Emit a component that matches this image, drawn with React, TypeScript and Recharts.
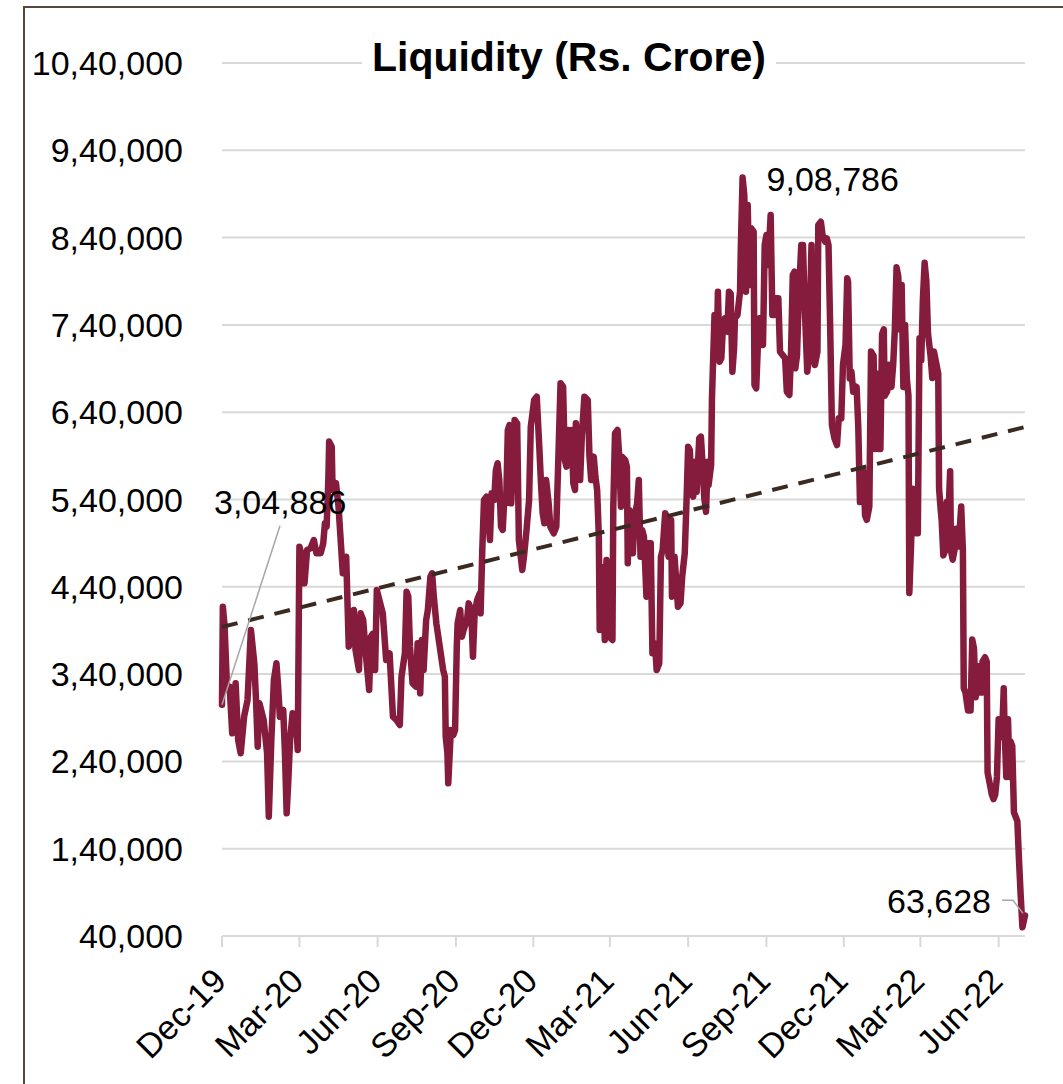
import { LineChart, Line, XAxis, YAxis, CartesianGrid, ReferenceLine } from 'recharts';

const FONT = '"Liberation Sans", Arial, sans-serif';

// day number counted from 1 Dec 2019
const dayNo = [
  0, 1, 3, 6, 9, 12, 16, 19, 22, 26, 30, 34, 38, 40, 42, 44, 49, 53, 55, 58,
  61, 64, 66, 68, 72, 74, 76, 78, 80, 83, 87, 89, 91, 93, 95, 97, 100, 104, 108, 111,
  116, 119, 121, 123, 125, 126, 129, 130, 134, 137, 139, 142, 146, 149, 152, 155, 157, 161, 163, 166,
  169, 173, 175, 177, 180, 182, 189, 193, 197, 201, 205, 209, 211, 215, 217, 219, 221, 224, 228, 230,
  233, 235, 237, 240, 242, 245, 247, 249, 252, 256, 260, 262, 263, 265, 266, 269, 272, 274, 276, 277,
  280, 282, 284, 288, 290, 293, 295, 297, 300, 303, 304, 306, 308, 311, 315, 317, 320, 322, 324, 326,
  328, 330, 332, 334, 336, 338, 340, 342, 344, 347, 349, 353, 355, 358, 361, 363, 367, 370, 373, 375,
  377, 379, 381, 384, 386, 390, 393, 395, 398, 401, 403, 405, 407, 409, 411, 413, 415, 416, 419, 421,
  423, 426, 430, 432, 434, 437, 439, 441, 443, 444, 446, 448, 450, 452, 455, 459, 460, 462, 465, 467,
  469, 470, 474, 476, 477, 479, 481, 483, 485, 488, 490, 492, 494, 496, 499, 501, 504, 506, 509, 511,
  514, 516, 518, 521, 523, 525, 528, 529, 532, 536, 539, 541, 544, 546, 548, 550, 552, 554, 556, 558,
  561, 563, 565, 567, 569, 571, 572, 575, 576, 579, 582, 583, 585, 587, 589, 591, 594, 596, 598, 600,
  602, 603, 606, 609, 610, 612, 614, 616, 618, 620, 622, 625, 626, 628, 630, 632, 634, 636, 638, 640,
  642, 645, 647, 649, 651, 654, 656, 659, 662, 664, 667, 669, 671, 673, 674, 676, 678, 681, 683, 685,
  688, 690, 693, 694, 697, 700, 701, 704, 706, 709, 711, 713, 715, 717, 720, 723, 725, 728, 730, 733,
  735, 736, 738, 740, 742, 744, 746, 748, 750, 752, 754, 756, 758, 761, 763, 766, 768, 770, 772, 774,
  776, 778, 779, 782, 784, 787, 789, 791, 793, 795, 797, 799, 801, 803, 805, 807, 808, 810, 812, 814,
  816, 818, 820, 822, 824, 826, 828, 830, 833, 835, 837, 839, 842, 843, 845, 846, 848, 850, 852, 854,
  856, 857, 859, 861, 863, 866, 869, 871, 872, 874, 877, 880, 882, 884, 886, 889, 890, 893, 894, 897,
  899, 900, 903, 905, 907, 909, 911, 913, 915, 917, 919, 920, 922, 924, 926, 927, 929, 931, 933, 935,
  937, 939, 941, 944,
];

// system liquidity, Rs. crore
const liquidity = [
  304886, 417200, 396000, 321800, 325600, 272200, 329500, 264500, 249300, 291200, 310300, 390500, 352400, 310300, 256900, 306500, 287400, 249300, 176700, 264500,
  333200, 352400, 325600, 291200, 298900, 249300, 180500, 218700, 264500, 295100, 287400, 253100, 486000, 478400, 459300, 444000, 482200, 484000, 493600, 478400,
  478400, 489800, 512700, 508800, 562300, 606300, 600500, 550900, 558600, 531800, 501300, 455500, 474500, 371400, 390500, 413400, 367600, 344700, 409600, 402000,
  363800, 321800, 382900, 386000, 344700, 436300, 409600, 356200, 363800, 291200, 287400, 281700, 337000, 363800, 434400, 428700, 371400, 329500, 325600, 375300,
  318000, 379100, 344700, 402000, 413400, 451600, 455500, 428700, 398100, 371400, 344700, 337000, 268300, 249300, 214900, 276000, 270200, 276000, 371400, 398100,
  413400, 382900, 390500, 402000, 421000, 413400, 359900, 409600, 424900, 432500, 409600, 482200, 539400, 543200, 493600, 547100, 539400, 573800, 581500, 562300,
  508800, 505100, 543200, 535600, 619600, 625300, 535600, 585300, 631100, 627200, 493600, 459300, 474500, 505100, 539400, 623400, 654000, 657800, 600500, 558600,
  524200, 512700, 562300, 535600, 508800, 501300, 508800, 573800, 673100, 669200, 585300, 577600, 619600, 589100, 619600, 558600, 550900, 627200, 592800, 562300,
  612000, 657800, 654000, 589100, 562300, 589100, 566100, 550900, 497500, 390500, 463000, 459300, 379100, 470700, 382900, 379100, 531800, 615800, 619600, 589100,
  531800, 589100, 585300, 577600, 466900, 528000, 524200, 478400, 520300, 535600, 562300, 474500, 505100, 497500, 428700, 489800, 489800, 363800, 375300, 344700,
  352400, 474500, 482200, 524200, 520300, 474500, 516500, 428700, 474500, 417200, 421000, 451600, 478400, 535600, 600500, 596700, 547100, 543200, 583300, 548900,
  610100, 612000, 579500, 541400, 526000, 583300, 556600, 579500, 655800, 751400, 732200, 778000, 697900, 701700, 739900, 747600, 732200, 778000, 776000, 686400,
  713200, 747600, 751400, 778000, 831500, 908786, 888800, 778000, 877400, 785700, 850700, 846800, 671200, 667400, 717000, 747600, 720800, 717000, 831500, 843000,
  808600, 865900, 751400, 751400, 770500, 770500, 709300, 705500, 701700, 663500, 659700, 709300, 797200, 801000, 690300, 705500, 770500, 831500, 831500, 762800,
  686400, 701700, 831500, 732200, 694100, 709300, 854500, 858200, 843000, 835300, 839100, 831500, 736100, 625300, 610100, 602400, 633000, 633000, 694100, 717000,
  793400, 789500, 678800, 686400, 663500, 670000, 668900, 623300, 537000, 542000, 572500, 521700, 516700, 531900, 709500, 704500, 597900, 684200, 597900, 597900,
  729800, 734900, 658800, 663900, 694300, 668900, 694300, 734900, 806000, 795800, 734900, 785700, 668900, 740000, 679100, 658800, 432900, 486200, 552200, 531900,
  501400, 501400, 724800, 699400, 770500, 811100, 790800, 729800, 704500, 679100, 709500, 699400, 684200, 552200, 526800, 516700, 476000, 481100, 537000, 521700,
  572500, 481100, 471000, 481100, 506500, 486200, 531900, 481100, 323800, 318800, 298400, 298400, 379600, 369500, 313600, 349100, 318800, 318800, 354200, 359300,
  354200, 227300, 212100, 202000, 196900, 202000, 222200, 288200, 283200, 268000, 323800, 278100, 222200, 288200, 222200, 262900, 257800, 181700, 176600, 171500,
  125800, 85200, 50000, 63628,
];

const tickDays = [0, 91, 183, 275, 366, 456, 548, 640, 731, 821, 913];
const tickLabels = ['Dec-19', 'Mar-20', 'Jun-20', 'Sep-20', 'Dec-20', 'Mar-21', 'Jun-21', 'Sep-21', 'Dec-21', 'Mar-22', 'Jun-22'];
const yTicks = [40000, 140000, 240000, 340000, 440000, 540000, 640000, 740000, 840000, 940000, 1040000];

// linear trend, value at first and last day
const trendStart = 394000;
const trendEnd = 623000;

const data = dayNo.map((d, i) => ({ day: d, value: liquidity[i] }));
const peakIndex = liquidity.indexOf(Math.max(...liquidity));
const lastIndex = liquidity.length - 1;

// 1040000 -> "10,40,000"
const formatIN = (n: number) => {
  const s = Math.round(n).toString();
  if (s.length <= 3) return s;
  let rest = s.slice(0, -3);
  const groups: string[] = [];
  while (rest.length > 2) {
    groups.unshift(rest.slice(-2));
    rest = rest.slice(0, -2);
  }
  if (rest) groups.unshift(rest);
  return groups.join(',') + ',' + s.slice(-3);
};

const DateTick = ({ x, y, payload }: any) => {
  const label = tickLabels[tickDays.indexOf(payload.value)] ?? '';
  return (
    <text
      transform={`translate(${x + 6},${y + 34}) rotate(-45)`}
      textAnchor="end"
      fontSize={34}
      fontFamily={FONT}
      fill="#000"
    >
      {label}
    </text>
  );
};

const renderPointLabel = (props: any) => {
  const { x, y, value, index } = props;
  const textProps = { fontSize: 34, fontFamily: FONT, fill: '#000' };
  if (index === 0) {
    return (
      <g key="lbl-start">
        <line x1={x} y1={y} x2={x + 58} y2={y - 179} stroke="#a6a6a6" strokeWidth={1.5} />
        <text x={x - 8} y={y - 191} {...textProps}>{formatIN(value)}</text>
      </g>
    );
  }
  if (index === peakIndex) {
    return (
      <text key="lbl-peak" x={x + 24} y={y + 13} {...textProps}>{formatIN(value)}</text>
    );
  }
  if (index === lastIndex) {
    return (
      <g key="lbl-end">
        <polyline
          points={`${x - 23},${y - 15} ${x - 12},${y - 15} ${x - 2},${y - 2}`}
          fill="none"
          stroke="#a6a6a6"
          strokeWidth={1.5}
        />
        <text x={x - 34} y={y - 2} textAnchor="end" {...textProps}>{formatIN(value)}</text>
      </g>
    );
  }
  return null;
};

export default function App() {
  return (
    <div
      style={{
        position: 'absolute',
        left: 0,
        top: 0,
        width: 1063,
        height: 1084,
        overflow: 'hidden',
        background: '#fff',
        fontFamily: FONT,
      }}
    >
      <div
        style={{
          position: 'absolute',
          left: 23,
          top: 6,
          width: 1100,
          height: 1150,
          border: '2px solid #55463f',
          boxSizing: 'border-box',
        }}
      />
      <div style={{ position: 'absolute', left: 0, top: 0 }}>
        <LineChart width={1063} height={1084} data={data} margin={{ top: 63, right: 38, bottom: 0, left: 0 }}>
          <CartesianGrid vertical={false} stroke="#d9d9d9" strokeWidth={2} />
          <XAxis
            type="number"
            dataKey="day"
            domain={[0, 944]}
            ticks={tickDays}
            interval={0}
            height={148}
            tickSize={11}
            axisLine={{ stroke: '#d9d9d9', strokeWidth: 2 }}
            tickLine={{ stroke: '#d9d9d9', strokeWidth: 2 }}
            tick={<DateTick />}
          />
          <YAxis
            domain={[40000, 1040000]}
            ticks={yTicks}
            interval={0}
            width={222}
            axisLine={false}
            tickLine={false}
            tickSize={0}
            tickMargin={39}
            tickFormatter={formatIN}
            tick={{ fontSize: 34, fill: '#000', fontFamily: FONT }}
          />
          <Line
            type="linear"
            dataKey="value"
            stroke="#851c3d"
            strokeWidth={6.5}
            strokeLinejoin="round"
            strokeLinecap="round"
            dot={false}
            activeDot={false}
            isAnimationActive={false}
            label={renderPointLabel}
          />
          <ReferenceLine
            segment={[{ x: 0, y: trendStart }, { x: 944, y: trendEnd }]}
            stroke="#3b2a22"
            strokeWidth={4}
            strokeDasharray="16 11"
          />
        </LineChart>
      </div>
      <div
        style={{
          position: 'absolute',
          left: 362,
          top: 37,
          width: 414,
          height: 40,
          lineHeight: '40px',
          fontSize: 41,
          fontWeight: 'bold',
          textAlign: 'center',
          background: '#fff',
          color: '#000',
          whiteSpace: 'nowrap',
        }}
      >
        Liquidity (Rs. Crore)
      </div>
    </div>
  );
}
